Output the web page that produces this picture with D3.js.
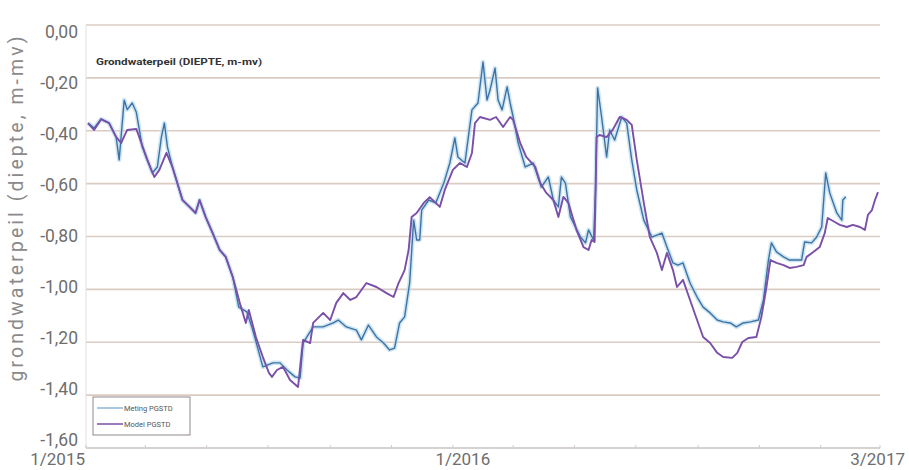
<!DOCTYPE html>
<html>
<head>
<meta charset="utf-8">
<script src="https://cdn.jsdelivr.net/npm/d3@7/dist/d3.min.js"></script>
<style>
  html, body { margin: 0; padding: 0; background: #fff; }
  svg { display: block; }
</style>
</head>
<body>
<svg id="chart" width="909" height="470"></svg>
<script>
// Grondwaterpeil PGSTD: gemeten en gemodelleerd (diepte t.o.v. maaiveld, m)

const yTicks = [0, -0.2, -0.4, -0.6, -0.8, -1.0, -1.2, -1.4, -1.6];
const xLabels = [
  { date: "2015-01-01", text: "1/2015" },
  { date: "2016-01-01", text: "1/2016" },
  { date: "2017-03-01", text: "3/2017" }
];
const seriesNames = ["Meting PGSTD", "Model PGSTD"];

const metingDatum = [
  "2015-01-03","2015-01-09","2015-01-16","2015-01-24","2015-01-31","2015-02-03","2015-02-08","2015-02-11",
  "2015-02-16","2015-02-20","2015-02-26","2015-03-08","2015-03-13","2015-03-17","2015-03-20","2015-03-23",
  "2015-03-28","2015-04-07","2015-04-14","2015-04-20","2015-04-24","2015-04-30","2015-05-07","2015-05-14",
  "2015-05-20","2015-05-27","2015-06-02","2015-06-10","2015-06-15","2015-06-26","2015-07-06","2015-07-13",
  "2015-07-20","2015-07-28","2015-08-02","2015-08-05","2015-08-15","2015-08-25","2015-09-04","2015-09-09",
  "2015-09-17","2015-09-27","2015-10-02","2015-10-09","2015-10-17","2015-10-24","2015-10-30","2015-11-04",
  "2015-11-09","2015-11-14","2015-11-19","2015-11-23","2015-11-26","2015-11-29","2015-12-01","2015-12-08",
  "2015-12-15","2015-12-23","2015-12-29","2016-01-03","2016-01-06","2016-01-13","2016-01-20","2016-01-26",
  "2016-01-31","2016-02-04","2016-02-07","2016-02-12","2016-02-15","2016-02-19","2016-02-24","2016-02-27",
  "2016-03-01","2016-03-06","2016-03-13","2016-03-21","2016-03-29","2016-04-05","2016-04-10","2016-04-15",
  "2016-04-18","2016-04-22","2016-04-27","2016-05-07","2016-05-12","2016-05-15","2016-05-20","2016-05-22",
  "2016-05-24","2016-05-28","2016-06-02","2016-06-05","2016-06-10","2016-06-17","2016-06-22","2016-06-27",
  "2016-07-02","2016-07-09","2016-07-17","2016-07-27","2016-08-01","2016-08-07","2016-08-12","2016-08-17",
  "2016-08-24","2016-08-31","2016-09-06","2016-09-13","2016-09-20","2016-09-26","2016-10-03","2016-10-09",
  "2016-10-16","2016-10-23","2016-10-31","2016-11-05","2016-11-10","2016-11-13","2016-11-18","2016-11-25",
  "2016-12-01","2016-12-13","2016-12-16","2016-12-23","2016-12-28","2017-01-02","2017-01-06","2017-01-10",
  "2017-01-17","2017-01-22","2017-01-23","2017-01-26"
];
const metingWaarde = [
  -0.371,-0.39,-0.356,-0.371,-0.424,-0.51,-0.284,-0.32,
  -0.295,-0.329,-0.461,-0.56,-0.537,-0.424,-0.371,-0.461,
  -0.537,-0.662,-0.688,-0.711,-0.662,-0.726,-0.787,-0.851,
  -0.877,-0.953,-1.067,-1.085,-1.142,-1.293,-1.278,-1.278,
  -1.305,-1.331,-1.335,-1.203,-1.142,-1.142,-1.127,-1.116,
  -1.142,-1.154,-1.191,-1.135,-1.18,-1.203,-1.229,-1.222,
  -1.127,-1.104,-0.976,-0.738,-0.813,-0.813,-0.70,-0.662,
  -0.673,-0.598,-0.522,-0.427,-0.499,-0.522,-0.321,-0.295,
  -0.14,-0.284,-0.246,-0.163,-0.284,-0.321,-0.234,-0.295,
  -0.348,-0.446,-0.537,-0.522,-0.613,-0.575,-0.662,-0.688,
  -0.575,-0.598,-0.726,-0.802,-0.824,-0.775,-0.813,-0.624,
  -0.238,-0.348,-0.499,-0.397,-0.435,-0.348,-0.371,-0.51,
  -0.624,-0.738,-0.802,-0.787,-0.84,-0.90,-0.908,-0.90,
  -0.976,-1.029,-1.067,-1.089,-1.116,-1.123,-1.127,-1.142,
  -1.127,-1.123,-1.116,-1.04,-0.889,-0.824,-0.858,-0.877,
  -0.889,-0.889,-0.821,-0.824,-0.802,-0.764,-0.56,-0.635,
  -0.711,-0.738,-0.662,-0.65
];

const modelDatum = [
  "2015-01-03","2015-01-09","2015-01-16","2015-01-24","2015-01-31","2015-02-05","2015-02-11","2015-02-20",
  "2015-02-23","2015-03-03","2015-03-10","2015-03-15","2015-03-22","2015-03-28","2015-04-07","2015-04-14",
  "2015-04-20","2015-04-24","2015-04-30","2015-05-07","2015-05-14","2015-05-20","2015-05-27","2015-06-03",
  "2015-06-09","2015-06-12","2015-06-19","2015-06-26","2015-07-02","2015-07-05","2015-07-10","2015-07-16",
  "2015-07-23","2015-07-31","2015-08-05","2015-08-12","2015-08-15","2015-08-25","2015-09-01","2015-09-07",
  "2015-09-14","2015-09-21","2015-09-27","2015-10-07","2015-10-17","2015-10-27","2015-11-03","2015-11-08",
  "2015-11-14","2015-11-18","2015-11-21","2015-11-26","2015-12-03","2015-12-09","2015-12-19","2015-12-24",
  "2016-01-01","2016-01-08","2016-01-15","2016-01-20","2016-01-23","2016-01-28","2016-02-07","2016-02-13",
  "2016-02-20","2016-02-27","2016-03-01","2016-03-08","2016-03-14","2016-03-23","2016-03-28","2016-04-03",
  "2016-04-10","2016-04-15","2016-04-20","2016-04-25","2016-05-03","2016-05-10","2016-05-15","2016-05-18",
  "2016-05-21","2016-05-23","2016-05-26","2016-06-02","2016-06-08","2016-06-15","2016-06-22","2016-06-27",
  "2016-07-02","2016-07-09","2016-07-15","2016-07-22","2016-07-27","2016-08-01","2016-08-07","2016-08-11",
  "2016-08-17","2016-08-24","2016-08-31","2016-09-06","2016-09-13","2016-09-20","2016-09-26","2016-10-05",
  "2016-10-10","2016-10-15","2016-10-21","2016-10-29","2016-11-03","2016-11-08","2016-11-12","2016-11-18",
  "2016-11-25","2016-12-01","2016-12-08","2016-12-15","2016-12-18","2016-12-25","2016-12-31","2017-01-05",
  "2017-01-08","2017-01-15","2017-01-20","2017-01-27","2017-02-02","2017-02-09","2017-02-14","2017-02-17",
  "2017-02-21","2017-02-24","2017-02-27"
];
const modelWaarde = [
  -0.371,-0.397,-0.356,-0.371,-0.424,-0.446,-0.397,-0.393,
  -0.424,-0.51,-0.575,-0.548,-0.484,-0.537,-0.662,-0.688,
  -0.711,-0.662,-0.726,-0.787,-0.851,-0.877,-0.953,-1.051,
  -1.127,-1.078,-1.18,-1.256,-1.316,-1.331,-1.305,-1.293,
  -1.343,-1.369,-1.191,-1.203,-1.127,-1.089,-1.116,-1.051,
  -1.014,-1.04,-1.029,-0.976,-0.991,-1.014,-1.029,-0.976,
  -0.927,-0.851,-0.726,-0.711,-0.673,-0.651,-0.688,-0.624,
  -0.548,-0.522,-0.537,-0.484,-0.371,-0.348,-0.359,-0.348,
  -0.386,-0.348,-0.359,-0.446,-0.499,-0.537,-0.598,-0.635,
  -0.662,-0.726,-0.65,-0.673,-0.775,-0.84,-0.851,-0.813,
  -0.821,-0.424,-0.416,-0.424,-0.397,-0.348,-0.359,-0.378,
  -0.51,-0.673,-0.802,-0.862,-0.927,-0.862,-0.927,-0.991,
  -0.964,-1.04,-1.116,-1.18,-1.203,-1.24,-1.256,-1.259,
  -1.24,-1.199,-1.184,-1.18,-1.104,-0.991,-0.889,-0.90,
  -0.908,-0.919,-0.915,-0.908,-0.877,-0.858,-0.84,-0.787,
  -0.73,-0.745,-0.756,-0.764,-0.756,-0.764,-0.775,-0.718,
  -0.70,-0.662,-0.632
];

const parse = d3.timeParse("%Y-%m-%d");
const meting = metingDatum.map((d, i) => ({ date: parse(d), value: metingWaarde[i] }));
const model = modelDatum.map((d, i) => ({ date: parse(d), value: modelWaarde[i] }));

const svg = d3.select("#chart");
const plot = { left: 86, right: 880, top: 25, bottom: 448 };

const x = d3.scaleTime()
  .domain([parse("2015-01-01"), parse("2017-03-01")])
  .range([plot.left, plot.right]);
const y = d3.scaleLinear()
  .domain([0, -1.6])
  .range([plot.top, plot.bottom]);
// tick labels sit on a slightly tighter spacing than the grid
const yLabel = d3.scaleLinear()
  .domain([0, -1.6])
  .range([plot.top + 7, plot.bottom - 8]);

const fmt = v => d3.format(".2f")(v).replace(".", ",").replace("−", "-");
const font = "Roboto, 'Noto Sans', sans-serif";

// horizontal grid lines
svg.append("g")
  .selectAll("line")
  .data(yTicks)
  .join("line")
  .attr("x1", plot.left)
  .attr("x2", plot.right)
  .attr("y1", d => y(d))
  .attr("y2", d => y(d))
  .attr("stroke", d => d === -1.6 ? "#c9c3c0" : "#dacbc3")
  .attr("stroke-width", 1.6);

// left axis line
svg.append("line")
  .attr("x1", plot.left).attr("x2", plot.left)
  .attr("y1", plot.top).attr("y2", plot.bottom)
  .attr("stroke", "#e4deda").attr("stroke-width", 1);

// bimonthly tick marks on the bottom axis
const monthTicks = x.ticks(d3.timeMonth.every(2));
svg.append("g")
  .selectAll("line")
  .data(monthTicks)
  .join("line")
  .attr("x1", d => x(d)).attr("x2", d => x(d))
  .attr("y1", plot.bottom - 3).attr("y2", plot.bottom)
  .attr("stroke", "#d2cac6").attr("stroke-width", 1);

// y tick labels
svg.append("g")
  .selectAll("text")
  .data(yTicks)
  .join("text")
  .attr("x", 78)
  .attr("y", d => yLabel(d))
  .attr("dy", "0.36em")
  .attr("text-anchor", "end")
  .attr("font-family", font)
  .attr("font-size", 17.5)
  .attr("fill", "#6e6e6e")
  .text(d => fmt(d));

// x labels
const xLabelStyle = [
  { anchor: "end", dx: -1 },
  { anchor: "middle", dx: 10 },
  { anchor: "end", dx: 25 }
];
svg.append("g")
  .selectAll("text")
  .data(xLabels)
  .join("text")
  .attr("x", (d, i) => x(parse(d.date)) + xLabelStyle[i].dx)
  .attr("y", 465)
  .attr("text-anchor", (d, i) => xLabelStyle[i].anchor)
  .attr("font-family", font)
  .attr("font-size", 17)
  .attr("fill", "#6e6e6e")
  .text(d => d.text);

// y axis title
svg.append("text")
  .attr("transform", "translate(23,209) rotate(-90)")
  .attr("text-anchor", "middle")
  .attr("font-family", font)
  .attr("font-size", 19.5)
  .attr("fill", "#8a8a8a")
  .attr("textLength", 345)
  .attr("lengthAdjust", "spacing")
  .text("grondwaterpeil (diepte, m-mv)");

// inner chart title
svg.append("text")
  .attr("x", 96)
  .attr("y", 65)
  .attr("font-family", font)
  .attr("font-size", 9.5)
  .attr("font-weight", "bold")
  .attr("fill", "#333")
  .attr("textLength", 166)
  .attr("lengthAdjust", "spacingAndGlyphs")
  .text("Grondwaterpeil (DIEPTE, m-mv)");

const line = d3.line()
  .x(d => x(d.date))
  .y(d => y(d.value));

// measured series: soft halo under a thin steel-blue line
svg.append("path")
  .datum(meting)
  .attr("d", line)
  .attr("fill", "none")
  .attr("stroke", "#b9dcf0")
  .attr("stroke-width", 4.5)
  .attr("stroke-opacity", 0.7)
  .attr("stroke-linejoin", "round");
svg.append("path")
  .datum(meting)
  .attr("d", line)
  .attr("fill", "none")
  .attr("stroke", "#3f72a3")
  .attr("stroke-width", 1.4)
  .attr("stroke-linejoin", "round");

// model series
svg.append("path")
  .datum(model)
  .attr("d", line)
  .attr("fill", "none")
  .attr("stroke", "#7a4fa9")
  .attr("stroke-width", 1.9)
  .attr("stroke-linejoin", "round");

// legend
const legend = svg.append("g").attr("transform", "translate(93,397)");
legend.append("rect")
  .attr("x", 0).attr("y", 0).attr("width", 97).attr("height", 38)
  .attr("fill", "#fff").attr("stroke", "#8f8a88").attr("stroke-width", 1);
const legendColors = ["#8fb6d8", "#7a4fa9"];
seriesNames.forEach((name, i) => {
  const gy = 11 + i * 16;
  legend.append("line")
    .attr("x1", 4).attr("x2", 30).attr("y1", gy).attr("y2", gy)
    .attr("stroke", legendColors[i]).attr("stroke-width", 1.5);
  legend.append("text")
    .attr("x", 31).attr("y", gy).attr("dy", "0.35em")
    .attr("font-family", font)
    .attr("font-size", 7.5)
    .attr("fill", "#555")
    .text(name);
});
</script>
</body>
</html>
